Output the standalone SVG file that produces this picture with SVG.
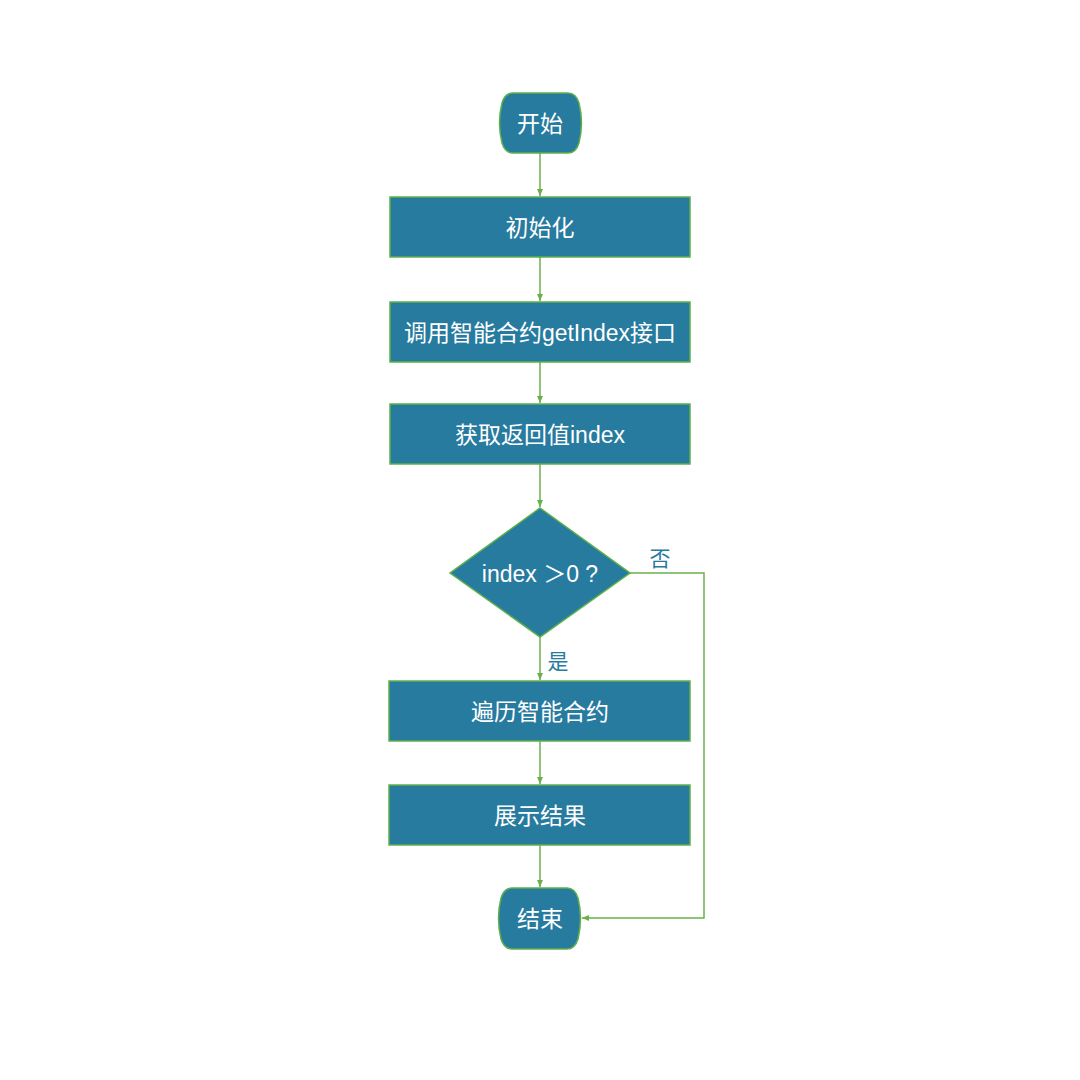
<svg xmlns="http://www.w3.org/2000/svg" width="1080" height="1080" viewBox="0 0 1080 1080">
<style>
.n{fill:#277b9f;stroke:#5fb04a;stroke-width:1.5}
.t{fill:#ffffff;font-family:"Liberation Sans","Noto Sans CJK SC",sans-serif;font-size:23px;text-anchor:middle;dominant-baseline:central}
.e{fill:none;stroke:#6ab04c;stroke-width:1.5}
.l{fill:#277b9f;font-family:"Noto Sans CJK SC",sans-serif;font-size:21px;text-anchor:middle;dominant-baseline:central}
</style>
<defs>
<marker id="a" markerWidth="8" markerHeight="8" refX="7" refY="4" orient="auto" markerUnits="userSpaceOnUse">
<path d="M0,1 L7,4 L0,7 Z" fill="#6ab04c"/>
</marker>
</defs>
<rect width="1080" height="1080" fill="#ffffff"/>
<g id="connectors">
<line class="e" x1="540" y1="153" x2="540" y2="196" marker-end="url(#a)"/>
<line class="e" x1="540" y1="257" x2="540" y2="301" marker-end="url(#a)"/>
<line class="e" x1="540" y1="362" x2="540" y2="403" marker-end="url(#a)"/>
<line class="e" x1="540" y1="464" x2="540" y2="507" marker-end="url(#a)"/>
<line class="e" x1="540" y1="637" x2="540" y2="680" marker-end="url(#a)"/>
<line class="e" x1="540" y1="741" x2="540" y2="784" marker-end="url(#a)"/>
<line class="e" x1="540" y1="845" x2="540" y2="887" marker-end="url(#a)"/>
<polyline class="e" points="630,573 704,573 704,918 582,918" marker-end="url(#a)"/>
<text class="l" x="660" y="557">否</text>
<text class="l" x="558" y="660">是</text>
</g>
<g id="start">
<path class="n" d="M513,93 H568 Q576,93 579,103 Q584,123 579,143 Q576,153 568,153 H513 Q505,153 502,143 Q497,123 502,103 Q505,93 513,93 Z"/>
<text class="t" x="540" y="124">开始</text>
</g>
<g id="init">
<rect class="n" x="390" y="197" width="300" height="60"/>
<text class="t" x="540" y="228">初始化</text>
</g>
<g id="call">
<rect class="n" x="390" y="302" width="300" height="60"/>
<text class="t" x="540" y="333">调用智能合约getIndex接口</text>
</g>
<g id="get">
<rect class="n" x="390" y="404" width="300" height="60"/>
<text class="t" x="540" y="435">获取返回值index</text>
</g>
<g id="decide">
<polygon class="n" points="540,508 630,573 540,637 450,573"/>
<text class="t" x="540" y="574">index ＞0 ?</text>
</g>
<g id="iterate">
<rect class="n" x="389" y="681" width="301" height="60"/>
<text class="t" x="540" y="712">遍历智能合约</text>
</g>
<g id="show">
<rect class="n" x="389" y="785" width="301" height="60"/>
<text class="t" x="540" y="816">展示结果</text>
</g>
<g id="end">
<path class="n" d="M512,888 H567 Q575,888 578,898 Q583,918 578,939 Q575,949 567,949 H512 Q504,949 501,939 Q496,918 501,898 Q504,888 512,888 Z"/>
<text class="t" x="540" y="919">结束</text>
</g>
</svg>
